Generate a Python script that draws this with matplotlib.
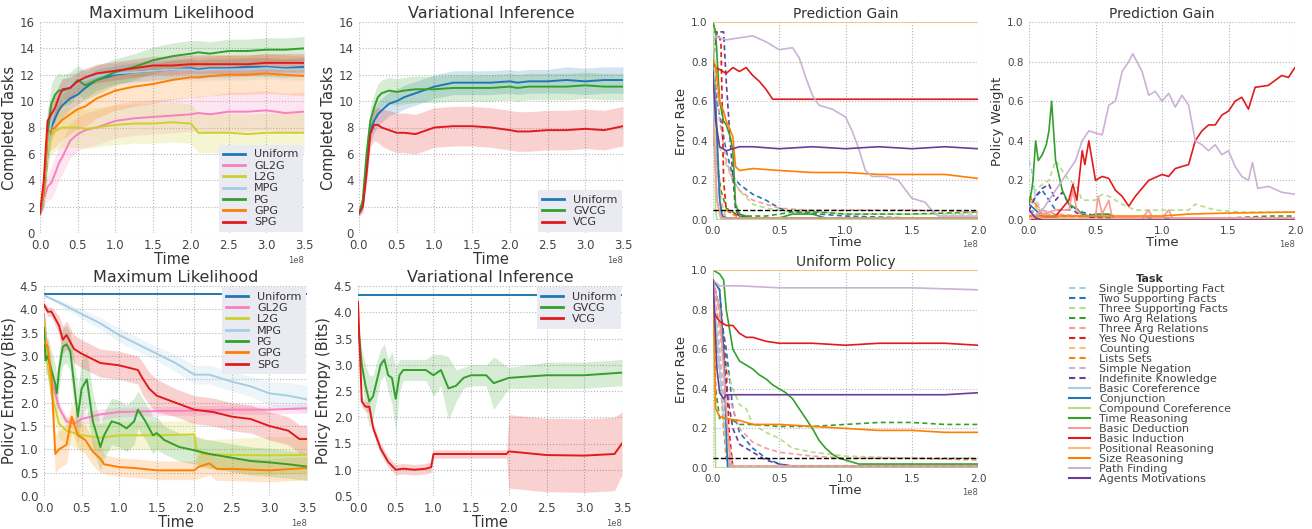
import numpy as np
import matplotlib
matplotlib.use("Agg")
import matplotlib.pyplot as plt
from matplotlib.lines import Line2D

# ---- left group: completed tasks (time in 1e8 steps) ----
t_top = [0, .05, .1, .15, .2, .25, .3, .4, .5, .6, .75, 1.0, 1.25, 1.5, 1.75, 2.0, 2.1, 2.25, 2.5, 2.75, 3.0, 3.25, 3.5]

ml_names = ["Uniform", "GL2G", "L2G", "MPG", "PG", "GPG", "SPG"]
ml_colors = ["#1f78b4", "#f781bf", "#cdd12b", "#a6cee3", "#33a02c", "#ff7f00", "#e31a1c"]

ml_tasks = [
    [1.5, 2.5, 6.0, 8.0, 8.7, 9.3, 9.7, 10.2, 10.5, 11.0, 11.6, 12.0, 12.2, 12.3, 12.4, 12.5, 12.4, 12.5, 12.5, 12.6, 12.6, 12.5, 12.6],
    [1.5, 2.5, 3.5, 3.8, 4.5, 5.3, 5.8, 7.0, 7.5, 7.8, 8.0, 8.5, 8.7, 8.8, 8.9, 9.0, 9.1, 9.0, 9.2, 9.2, 9.3, 9.1, 9.2],
    [1.5, 2.5, 6.0, 7.4, 7.7, 7.9, 8.0, 8.0, 8.0, 7.9, 8.0, 8.2, 8.3, 8.3, 8.4, 8.3, 7.6, 7.6, 7.6, 7.5, 7.6, 7.6, 7.6],
    [1.5, 2.5, 6.5, 8.5, 9.5, 10.3, 10.8, 11.3, 11.5, 11.6, 11.9, 12.1, 12.2, 12.3, 12.4, 12.4, 12.3, 12.4, 12.4, 12.4, 12.5, 12.4, 12.4],
    [1.5, 3.0, 7.5, 9.8, 10.5, 10.8, 10.8, 11.0, 11.6, 11.2, 11.6, 12.2, 12.6, 13.1, 13.4, 13.6, 13.7, 13.6, 13.8, 13.8, 13.9, 13.9, 14.0],
    [1.5, 3.0, 7.5, 7.8, 8.0, 8.3, 8.6, 9.0, 9.4, 9.6, 10.2, 10.8, 11.1, 11.3, 11.6, 11.8, 11.8, 11.9, 12.0, 12.0, 12.1, 12.0, 11.9],
    [1.5, 4.0, 8.5, 9.0, 9.5, 10.3, 10.9, 11.0, 11.5, 11.8, 12.1, 12.3, 12.5, 12.7, 12.7, 12.8, 12.8, 12.8, 12.8, 12.8, 12.9, 12.9, 12.9],
]
ml_tasks_sd = [
    [0.2, 0.5, 1.0, 1.0, 1.0, 0.9, 0.9, 0.8, 0.8, 0.8, 0.8, 0.7, 0.7, 0.7, 0.7, 0.7, 0.7, 0.7, 0.7, 0.7, 0.7, 0.7, 0.7],
    [0.2, 0.6, 1.0, 1.2, 1.3, 1.3, 1.3, 1.3, 1.3, 1.3, 1.3, 1.3, 1.3, 1.3, 1.3, 1.3, 1.3, 1.4, 1.5, 1.5, 1.5, 1.5, 1.5],
    [0.2, 0.6, 1.2, 1.4, 1.5, 1.5, 1.5, 1.5, 1.5, 1.5, 1.5, 1.5, 1.5, 1.5, 1.5, 1.5, 1.5, 1.5, 1.5, 1.5, 1.5, 1.5, 1.5],
    [0.2, 0.6, 1.0, 1.0, 0.9, 0.9, 0.9, 0.8, 0.8, 0.8, 0.8, 0.8, 0.8, 0.8, 0.8, 0.8, 0.8, 0.8, 0.8, 0.8, 0.8, 0.8, 0.8],
    [0.2, 0.8, 1.5, 1.5, 1.4, 1.3, 1.2, 1.2, 1.1, 1.1, 1.1, 1.0, 1.0, 1.0, 1.0, 1.0, 0.9, 0.9, 0.9, 0.9, 0.9, 0.9, 0.9],
    [0.2, 0.8, 1.5, 1.5, 1.5, 1.5, 1.5, 1.5, 1.5, 1.5, 1.5, 1.5, 1.5, 1.5, 1.5, 1.5, 1.5, 1.5, 1.5, 1.5, 1.5, 1.5, 1.5],
    [0.2, 0.8, 1.0, 1.0, 1.0, 0.9, 0.8, 0.8, 0.7, 0.7, 0.7, 0.7, 0.7, 0.7, 0.7, 0.7, 0.7, 0.7, 0.7, 0.7, 0.7, 0.7, 0.7],
]

vi_names = ["Uniform", "GVCG", "VCG"]
vi_colors = ["#1f78b4", "#33a02c", "#e31a1c"]
vi_tasks = [
    [1.5, 2.0, 5.0, 7.8, 8.5, 9.0, 9.3, 9.8, 10.0, 10.3, 10.6, 11.1, 11.4, 11.4, 11.4, 11.5, 11.4, 11.5, 11.5, 11.6, 11.5, 11.6, 11.6],
    [1.5, 2.5, 6.0, 8.5, 9.5, 10.3, 10.6, 10.8, 10.7, 10.8, 10.9, 10.9, 11.0, 11.0, 11.0, 11.1, 11.0, 11.1, 11.1, 11.1, 11.2, 11.1, 11.1],
    [1.5, 2.0, 4.5, 7.5, 8.2, 8.2, 8.0, 7.8, 7.6, 7.6, 7.5, 8.0, 8.1, 8.1, 8.0, 7.8, 7.7, 7.7, 7.8, 7.8, 7.9, 7.8, 8.1],
]
vi_tasks_sd = [
    [0.2, 0.4, 0.8, 0.9, 0.9, 0.9, 0.9, 0.9, 0.9, 0.9, 0.9, 0.9, 0.9, 0.9, 0.9, 0.9, 0.9, 0.9, 0.9, 1.0, 1.0, 1.0, 1.0],
    [0.2, 0.4, 0.9, 1.0, 1.0, 1.0, 1.0, 1.0, 1.0, 1.0, 1.0, 1.0, 1.0, 1.0, 1.0, 1.0, 1.0, 1.0, 1.0, 1.0, 1.0, 1.0, 1.0],
    [0.2, 0.4, 0.8, 1.0, 1.2, 1.3, 1.4, 1.5, 1.5, 1.5, 1.5, 1.5, 1.5, 1.5, 1.5, 1.5, 1.5, 1.5, 1.5, 1.5, 1.5, 1.5, 1.5],
]

# ---- left group: policy entropy ----
ml_ent_x = [
    [0, 3.5],
    [0, .05, .1, .2, .3, .4, .5, .75, 1.0, 1.5, 2.0, 2.5, 3.0, 3.5],
    [0, .05, .1, .2, .3, .4, .5, .75, 1.0, 1.5, 2.0, 2.03, 2.1, 2.5, 3.0, 3.5],
    [0, .2, .5, .75, 1.0, 1.25, 1.5, 1.75, 2.0, 2.2, 2.5, 2.75, 3.0, 3.25, 3.5],
    [0, .02, .05, .1, .15, .17, .2, .25, .3, .35, .4, .45, .5, .57, .65, .75, .8, .9, 1.0, 1.1, 1.2, 1.25, 1.35, 1.45, 1.5, 1.6, 1.8, 2.0, 2.2, 2.5, 2.75, 3.0, 3.25, 3.5],
    [0, .05, .1, .15, .2, .3, .37, .45, .55, .65, .75, .8, 1.0, 1.2, 1.5, 2.0, 2.05, 2.2, 2.3, 2.5, 3.0, 3.5],
    [0, .05, .1, .2, .25, .3, .35, .4, .5, .75, 1.0, 1.25, 1.3, 1.4, 1.5, 1.75, 2.0, 2.25, 2.5, 2.75, 3.0, 3.25, 3.4, 3.5],
]
ml_ent = [
    [4.32, 4.32],
    [3.9, 3.0, 2.5, 1.9, 1.6, 1.55, 1.65, 1.75, 1.8, 1.82, 1.83, 1.85, 1.85, 1.88],
    [3.8, 2.8, 2.2, 1.55, 1.4, 1.35, 1.3, 1.25, 1.3, 1.3, 1.32, 1.0, 0.9, 0.88, 0.87, 0.88],
    [4.3, 4.15, 3.9, 3.7, 3.45, 3.25, 3.05, 2.85, 2.6, 2.6, 2.45, 2.35, 2.2, 2.15, 2.07],
    [3.6, 2.9, 3.0, 2.7, 2.4, 2.2, 2.7, 3.2, 3.25, 3.1, 2.4, 1.7, 2.3, 2.5, 1.6, 1.05, 1.3, 1.6, 1.55, 1.45, 1.6, 1.85, 1.6, 1.3, 1.35, 1.2, 1.05, 0.98, 0.9, 0.82, 0.75, 0.72, 0.68, 0.63],
    [3.3, 3.2, 2.5, 0.9, 1.0, 1.1, 1.7, 1.3, 1.2, 0.95, 0.8, 0.68, 0.62, 0.6, 0.55, 0.55, 0.62, 0.7, 0.58, 0.58, 0.55, 0.6],
    [4.1, 3.95, 3.95, 3.65, 3.35, 3.45, 3.3, 3.15, 3.05, 2.85, 2.8, 2.7, 2.55, 2.3, 2.15, 2.0, 1.85, 1.8, 1.7, 1.65, 1.5, 1.4, 1.22, 1.22],
]
ml_ent_sd = [
    [0.0, 0.0],
    [0.05, 0.1, 0.1, 0.12, 0.12, 0.12, 0.12, 0.12, 0.1, 0.1, 0.1, 0.1, 0.1, 0.1],
    [0.1, 0.2, 0.3, 0.3, 0.3, 0.3, 0.3, 0.3, 0.3, 0.3, 0.3, 0.3, 0.3, 0.35, 0.4, 0.4],
    [0.02, 0.05, 0.1, 0.12, 0.15, 0.15, 0.15, 0.18, 0.2, 0.2, 0.2, 0.22, 0.25, 0.28, 0.3],
    [0.1, 0.3, 0.4, 0.4, 0.4, 0.4, 0.4, 0.4, 0.4, 0.4, 0.5, 0.6, 0.6, 0.6, 0.6, 0.5, 0.5, 0.5, 0.5, 0.5, 0.5, 0.4, 0.4, 0.4, 0.35, 0.3, 0.3, 0.3, 0.3, 0.3, 0.3, 0.3, 0.3, 0.3],
    [0.1, 0.2, 0.4, 0.4, 0.4, 0.4, 0.3, 0.3, 0.3, 0.3, 0.3, 0.2, 0.2, 0.2, 0.2, 0.2, 0.25, 0.25, 0.25, 0.25, 0.25, 0.25],
    [0.05, 0.1, 0.1, 0.2, 0.3, 0.3, 0.3, 0.3, 0.3, 0.3, 0.3, 0.3, 0.35, 0.35, 0.35, 0.3, 0.3, 0.3, 0.3, 0.3, 0.3, 0.3, 0.3, 0.3],
]

vi_ent_x = [
    [0, 3.5],
    [0, .05, .1, .15, .2, .3, .35, .4, .45, .5, .55, .6, .75, .9, 1.0, 1.1, 1.2, 1.3, 1.4, 1.5, 1.7, 1.8, 2.0, 2.5, 3.0, 3.5],
    [0, .05, .1, .15, .2, .3, .4, .5, .6, .75, .9, .97, 1.0, 1.5, 1.97, 2.0, 2.5, 3.0, 3.4, 3.5],
]
vi_ent = [
    [4.32, 4.32],
    [3.75, 3.0, 2.6, 2.3, 2.4, 3.0, 3.1, 2.8, 2.75, 2.35, 2.8, 2.9, 2.9, 2.9, 2.8, 2.9, 2.55, 2.6, 2.75, 2.8, 2.8, 2.65, 2.75, 2.8, 2.8, 2.85],
    [4.2, 2.3, 2.2, 2.2, 1.8, 1.4, 1.15, 1.0, 1.02, 1.0, 1.02, 1.05, 1.3, 1.3, 1.3, 1.35, 1.28, 1.27, 1.3, 1.5],
]
vi_ent_sd = [
    [0.0, 0.0],
    [0.1, 0.3, 0.4, 0.5, 0.4, 0.3, 0.3, 0.3, 0.5, 0.6, 0.3, 0.2, 0.2, 0.2, 0.4, 0.3, 0.6, 0.3, 0.2, 0.2, 0.2, 0.5, 0.2, 0.25, 0.25, 0.25],
    [0.05, 0.1, 0.1, 0.1, 0.1, 0.1, 0.1, 0.1, 0.1, 0.1, 0.1, 0.1, 0.08, 0.08, 0.08, 0.7, 0.7, 0.7, 0.7, 0.6],
]

# ---- right group: bAbI tasks ----
task_names = ["Single Supporting Fact", "Two Supporting Facts", "Three Supporting Facts",
              "Two Arg Relations", "Three Arg Relations", "Yes No Questions", "Counting",
              "Lists Sets", "Simple Negation", "Indefinite Knowledge", "Basic Coreference",
              "Conjunction", "Compound Coreference", "Time Reasoning", "Basic Deduction",
              "Basic Induction", "Positional Reasoning", "Size Reasoning", "Path Finding",
              "Agents Motivations"]
paired = ["#a6cee3", "#1f78b4", "#b2df8a", "#33a02c", "#fb9a99",
          "#e31a1c", "#fdbf6f", "#ff7f00", "#cab2d6", "#6a3d9a"]

pg_err_x = [
    [0, .03, .06, .1, 2.0],
    [0, .03, .1, .15, .2, .3, .4, .5, .6, .8, 1.0, 1.5, 2.0],
    [0, .03, .06, .1, .15, .2, .3, .4, .6, .8, 1.0, 1.5, 2.0],
    [0, .03, .06, .1, .2, .4, .6, .8, 1.0, 1.5, 2.0],
    [0, .05, .1, .15, .2, .3, .5, .7, 1.0, 1.5, 2.0],
    [0, .03, .06, .08, .1, .15, .3, 2.0],
    [0, .03, .06, .1, 2.0],
    [0, .03, .06, .1, .2, 2.0],
    [0, .03, .06, .1, 2.0],
    [0, .03, .08, .1, .13, .17, .2, .3, 2.0],
    [0, .03, .06, 2.0],
    [0, .02, .05, .07, .1, 2.0],
    [0, .01, .02, .03, 2.0],
    [0, .02, .05, .08, .1, .13, .15, .17, .2, .3, .5, .6, .75, .8, .85, 2.0],
    [0, .03, .06, 2.0],
    [0, .02, .05, .1, .15, .2, .25, .3, .35, .4, .45, .5, .75, 1.0, 1.25, 1.5, 1.75, 2.0],
    [0, 2.0],
    [0, .02, .05, .08, .1, .12, .15, .17, .2, .3, .5, .75, 1.0, 1.25, 1.5, 1.75, 2.0],
    [0, .02, .05, .1, .2, .3, .4, .5, .6, .65, .7, .75, .8, .9, 1.0, 1.05, 1.1, 1.15, 1.2, 1.3, 1.4, 1.5, 1.6, 1.65, 1.7, 1.8, 2.0],
    [0, .02, .05, .1, .2, .3, .5, .75, 1.0, 1.25, 1.5, 1.75, 2.0],
]
pg_err = [
    [0.6, 0.3, 0.03, 0.0, 0.0],
    [0.85, 0.6, 0.35, 0.22, 0.18, 0.13, 0.1, 0.06, 0.04, 0.03, 0.02, 0.01, 0.01],
    [0.45, 0.4, 0.35, 0.28, 0.2, 0.15, 0.08, 0.06, 0.04, 0.04, 0.03, 0.03, 0.03],
    [0.4, 0.3, 0.15, 0.06, 0.02, 0.02, 0.04, 0.04, 0.03, 0.03, 0.04],
    [0.9, 0.5, 0.3, 0.2, 0.15, 0.1, 0.06, 0.05, 0.05, 0.05, 0.04],
    [0.95, 0.95, 0.9, 0.2, 0.05, 0.03, 0.01, 0.01],
    [0.8, 0.4, 0.1, 0.01, 0.01],
    [0.75, 0.3, 0.06, 0.05, 0.01, 0.01],
    [0.7, 0.3, 0.05, 0.01, 0.01],
    [0.8, 0.95, 0.95, 0.7, 0.4, 0.05, 0.02, 0.01, 0.01],
    [0.6, 0.1, 0.0, 0.0],
    [0.85, 0.6, 0.1, 0.02, 0.01, 0.01],
    [1.0, 0.8, 0.05, 0.0, 0.0],
    [1.0, 0.95, 0.6, 0.5, 0.48, 0.42, 0.35, 0.08, 0.03, 0.01, 0.01, 0.03, 0.03, 0.02, 0.01, 0.01],
    [0.5, 0.1, 0.01, 0.01],
    [0.8, 0.77, 0.76, 0.74, 0.77, 0.75, 0.77, 0.73, 0.7, 0.66, 0.61, 0.61, 0.61, 0.61, 0.61, 0.61, 0.61, 0.61],
    [1.0, 1.0],
    [0.8, 0.78, 0.6, 0.55, 0.5, 0.47, 0.42, 0.27, 0.25, 0.26, 0.25, 0.24, 0.24, 0.23, 0.23, 0.23, 0.21],
    [0.9, 0.93, 0.92, 0.91, 0.92, 0.93, 0.9, 0.86, 0.87, 0.82, 0.72, 0.63, 0.58, 0.56, 0.52, 0.45, 0.36, 0.25, 0.22, 0.22, 0.2, 0.11, 0.09, 0.05, 0.02, 0.02, 0.02],
    [0.75, 0.5, 0.37, 0.35, 0.37, 0.37, 0.36, 0.37, 0.36, 0.37, 0.36, 0.37, 0.36],
]

uni_err_x = [
    [0, .05, .1, .15, 2.0],
    [0, .05, .1, .15, .2, .3, .4, .5, .6, 2.0],
    [0, .1, .15, .2, .25, .3, .4, .5, .6, .75, 1.0, 1.5, 2.0],
    [0, .02, .05, .1, .15, .2, .3, .5, .75, 1.0, 1.25, 1.5, 1.75, 2.0],
    [0, .05, .1, .2, .3, .4, .5, .75, 1.0, 1.5, 2.0],
    [0, .05, .1, .12, .15, 2.0],
    [0, .05, .1, .15, 2.0],
    [0, .05, .08, .1, .13, 2.0],
    [0, .05, .1, .15, 2.0],
    [0, .05, .1, .15, .2, .3, .4, .5, .6, 2.0],
    [0, .05, .1, .12, 2.0],
    [0, .05, .08, .1, .11, 2.0],
    [0, .01, .02, 2.0],
    [0, .05, .08, .1, .15, .2, .25, .3, .35, .4, .45, .5, .55, .6, .65, .7, .75, .8, .85, .9, .95, 1.0, 1.1, 1.5, 2.0],
    [0, .05, .1, .13, 2.0],
    [0, .02, .05, .1, .15, .2, .25, .3, .4, .5, .75, 1.0, 1.25, 1.5, 1.75, 2.0],
    [0, 2.0],
    [0, .02, .05, .1, .2, .3, .5, .75, 1.0, 1.25, 1.5, 1.75, 2.0],
    [0, .05, .2, .5, 1.0, 1.5, 2.0],
    [0, .03, .05, .08, .1, .3, .5, .75, 1.0, 1.25, 1.5, 1.75, 2.0],
]
uni_err = [
    [0.9, 0.5, 0.1, 0.0, 0.0],
    [0.95, 0.8, 0.6, 0.3, 0.18, 0.1, 0.05, 0.02, 0.01, 0.01],
    [0.9, 0.5, 0.4, 0.32, 0.3, 0.22, 0.18, 0.15, 0.1, 0.08, 0.06, 0.05, 0.05],
    [0.9, 0.4, 0.25, 0.25, 0.24, 0.22, 0.22, 0.21, 0.21, 0.22, 0.23, 0.23, 0.22, 0.22],
    [0.95, 0.7, 0.4, 0.2, 0.13, 0.1, 0.08, 0.06, 0.05, 0.05, 0.04],
    [0.95, 0.9, 0.5, 0.2, 0.0, 0.0],
    [0.9, 0.6, 0.2, 0.01, 0.01],
    [0.9, 0.5, 0.2, 0.05, 0.0, 0.0],
    [0.9, 0.6, 0.2, 0.01, 0.01],
    [0.95, 0.8, 0.4, 0.2, 0.12, 0.08, 0.04, 0.02, 0.01, 0.01],
    [0.95, 0.5, 0.1, 0.0, 0.0],
    [0.95, 0.9, 0.6, 0.2, 0.0, 0.0],
    [1.0, 0.5, 0.0, 0.0],
    [1.0, 0.98, 0.95, 0.8, 0.6, 0.54, 0.52, 0.5, 0.47, 0.45, 0.42, 0.4, 0.38, 0.35, 0.3, 0.25, 0.2, 0.14, 0.1, 0.07, 0.05, 0.04, 0.02, 0.02, 0.02],
    [0.95, 0.8, 0.3, 0.01, 0.01],
    [0.8, 0.77, 0.74, 0.72, 0.72, 0.68, 0.66, 0.66, 0.64, 0.63, 0.63, 0.62, 0.63, 0.63, 0.63, 0.62],
    [1.0, 1.0],
    [0.95, 0.3, 0.26, 0.25, 0.24, 0.22, 0.22, 0.21, 0.2, 0.19, 0.19, 0.18, 0.18],
    [0.95, 0.92, 0.92, 0.91, 0.91, 0.91, 0.9],
    [0.95, 0.5, 0.38, 0.35, 0.37, 0.37, 0.37, 0.37, 0.37, 0.37, 0.37, 0.37, 0.38],
]

pg_w_x = [
    [0, .02, .05, .1, .2, 2.0],
    [0, .05, .1, .15, .2, .3, .35, .4, .5, .6, .7, 2.0],
    [0, .05, .1, .15, .2, .25, .3, .35, .4, .5, .55, .6, .7, .8, 1.0, 1.2, 1.25, 1.3, 1.4, 1.6, 1.8, 2.0],
    [0, .1, .3, .5, .7, 1.0, 1.5, 1.8, 2.0],
    [0, .1, .2, .4, .6, 2.0],
    [0, .1, .2, 2.0],
    [0, .1, .3, 2.0],
    [0, .05, .1, .2, 2.0],
    [0, .1, .3, 2.0],
    [0, .05, .1, .15, .2, .25, .3, .35, .4, .5, 2.0],
    [0, .1, .3, 2.0],
    [0, .05, .1, .2, .3, 2.0],
    [0, .1, 2.0],
    [0, .02, .03, .05, .07, .1, .13, .15, .17, .2, .25, .3, .35, .4, .45, .5, .55, .6, .65, .7, 2.0],
    [0, .1, .2, .3, .33, .36, .4, .5, .52, .55, .6, .62, .65, .85, .9, .93, 1.0, 1.05, 1.08, 1.2, 2.0],
    [0, .2, .3, .33, .36, .4, .42, .45, .5, .55, .6, .65, .7, .75, .8, .9, 1.0, 1.05, 1.1, 1.2, 1.25, 1.3, 1.35, 1.4, 1.45, 1.5, 1.55, 1.6, 1.65, 1.7, 1.8, 1.9, 1.95, 2.0],
    [0, .5, 2.0],
    [0, .2, .5, 1.0, 1.2, 1.5, 2.0],
    [0, .1, .2, .3, .35, .4, .45, .55, .6, .65, .7, .75, .78, .85, .9, .95, 1.0, 1.05, 1.1, 1.15, 1.2, 1.25, 1.3, 1.35, 1.4, 1.45, 1.5, 1.55, 1.6, 1.65, 1.68, 1.72, 1.8, 1.9, 2.0],
    [0, .05, .1, 2.0],
]
pg_w = [
    [0.3, 0.25, 0.1, 0.05, 0.0, 0.0],
    [0.05, 0.12, 0.15, 0.1, 0.05, 0.05, 0.06, 0.04, 0.02, 0.01, 0.0, 0.0],
    [0.1, 0.15, 0.18, 0.2, 0.3, 0.25, 0.2, 0.18, 0.1, 0.1, 0.13, 0.12, 0.08, 0.05, 0.05, 0.05, 0.08, 0.07, 0.05, 0.04, 0.04, 0.04],
    [0.05, 0.03, 0.02, 0.01, 0.01, 0.01, 0.01, 0.02, 0.02],
    [0.1, 0.05, 0.03, 0.02, 0.01, 0.01],
    [0.05, 0.02, 0.0, 0.0],
    [0.1, 0.03, 0.01, 0.01],
    [0.12, 0.08, 0.03, 0.01, 0.0],
    [0.05, 0.03, 0.01, 0.0],
    [0.05, 0.12, 0.16, 0.18, 0.1, 0.14, 0.08, 0.04, 0.02, 0.01, 0.0],
    [0.02, 0.01, 0.0, 0.0],
    [0.08, 0.05, 0.02, 0.01, 0.0, 0.0],
    [0.01, 0.0, 0.0],
    [0.08, 0.15, 0.2, 0.4, 0.3, 0.33, 0.38, 0.45, 0.6, 0.3, 0.15, 0.08, 0.06, 0.03, 0.02, 0.03, 0.03, 0.03, 0.01, 0.0, 0.0],
    [0.02, 0.03, 0.05, 0.05, 0.15, 0.05, 0.02, 0.02, 0.12, 0.03, 0.1, 0.03, 0.01, 0.01, 0.05, 0.01, 0.01, 0.05, 0.01, 0.01, 0.01],
    [0.0, 0.02, 0.1, 0.18, 0.1, 0.35, 0.28, 0.4, 0.2, 0.22, 0.21, 0.15, 0.12, 0.07, 0.12, 0.2, 0.23, 0.22, 0.26, 0.28, 0.4, 0.45, 0.48, 0.48, 0.53, 0.55, 0.6, 0.62, 0.56, 0.67, 0.68, 0.73, 0.72, 0.77],
    [0.01, 0.005, 0.0],
    [0.02, 0.02, 0.02, 0.02, 0.03, 0.035, 0.04],
    [0.0, 0.05, 0.15, 0.25, 0.3, 0.4, 0.45, 0.43, 0.58, 0.6, 0.75, 0.8, 0.84, 0.75, 0.63, 0.65, 0.6, 0.64, 0.57, 0.63, 0.58, 0.4, 0.38, 0.35, 0.38, 0.33, 0.35, 0.27, 0.22, 0.2, 0.29, 0.16, 0.17, 0.14, 0.13],
    [0.05, 0.01, 0.0, 0.0],
]

# ---- styling ----
plt.rcParams["font.family"] = "DejaVu Sans"
plt.rcParams["text.color"] = "#333333"
plt.rcParams["axes.labelcolor"] = "#333333"

W, H = 1312, 529
fig = plt.figure(figsize=(W / 100, H / 100), dpi=100)


def box(l, t, r, b):
    return [l / W, 1 - b / H, (r - l) / W, (b - t) / H]


def style(ax, big=True):
    for s in ax.spines.values():
        s.set_visible(False)
    ax.grid(True, ls=":", color="#b5b5b5", lw=0.8)
    ax.set_axisbelow(True)
    ax.tick_params(axis="y", length=0, labelsize=8.5 if big else 7.5, colors="#444444", pad=4)
    ax.tick_params(axis="x", length=0, labelsize=8.5 if big else 7.5, colors="#444444", pad=4)
    ax.xaxis.get_offset_text().set_fontsize(6)
    ax.xaxis.get_offset_text().set_color("#555555")


def draw_group(ax, xs, ys, sds, names, colors):
    for x, y, sd, n, c in zip(xs, ys, sds, names, colors):
        x = np.array(x) * 1e8
        y = np.array(y)
        sd = np.array(sd)
        ax.fill_between(x, y - sd, y + sd, color=c, alpha=0.2, lw=0)
        ax.plot(x, y, color=c, lw=1.4, label=n)


def leg(ax, loc):
    lg = ax.legend(loc=loc, fontsize=8, frameon=True, facecolor="#eaeaf2", edgecolor="none",
                   framealpha=1, labelspacing=0.12, handlelength=2.0, borderpad=0.4,
                   fancybox=False, borderaxespad=0.1)
    for h in lg.get_lines():
        h.set_linewidth(2)


def left_axes(rect, title, ylabel):
    ax = fig.add_axes(rect)
    ax.set_title(title, fontsize=11.5, pad=3)
    ax.set_ylabel(ylabel, fontsize=10.5, labelpad=2)
    ax.set_xlabel("Time", fontsize=10.5, labelpad=0)
    return ax


# top left
ax = left_axes(box(40, 22, 304, 233), "Maximum Likelihood", "Completed Tasks")
draw_group(ax, [t_top] * 7, ml_tasks, ml_tasks_sd, ml_names, ml_colors)
ax.set_xlim(0, 3.5e8); ax.set_ylim(0, 16)
ax.set_yticks(range(0, 17, 2))
style(ax)
leg(ax, "lower right")

# top middle
ax = left_axes(box(359, 22, 623, 233), "Variational Inference", "Completed Tasks")
draw_group(ax, [t_top] * 3, vi_tasks, vi_tasks_sd, vi_names, vi_colors)
ax.set_xlim(0, 3.5e8); ax.set_ylim(0, 16)
ax.set_yticks(range(0, 17, 2))
style(ax)
leg(ax, "lower right")

# bottom left
ax = left_axes(box(44, 286, 307, 496), "Maximum Likelihood", "Policy Entropy (Bits)")
draw_group(ax, ml_ent_x, ml_ent, ml_ent_sd, ml_names, ml_colors)
ax.set_xlim(0, 3.5e8); ax.set_ylim(0, 4.5)
ax.set_yticks(np.arange(0, 4.51, 0.5))
style(ax)
leg(ax, "upper right")

# bottom middle
ax = left_axes(box(358, 286, 622, 496), "Variational Inference", "Policy Entropy (Bits)")
draw_group(ax, vi_ent_x, vi_ent, vi_ent_sd, vi_names, vi_colors)
ax.set_xlim(0, 3.5e8); ax.set_ylim(0.5, 4.5)
ax.set_yticks(np.arange(0.5, 4.51, 0.5))
style(ax)
leg(ax, "upper right")


def draw_tasks(ax, xs, ys, thresh=True):
    for i, (x, y) in enumerate(zip(xs, ys)):
        ax.plot(np.array(x) * 1e8, y, color=paired[i % 10], lw=1.2,
                ls=(0, (3, 2)) if i < 10 else "-")
    if thresh:
        ax.axhline(0.05, color="k", ls="--", lw=1)
    ax.set_xlim(0, 2e8); ax.set_ylim(0, 1)
    ax.set_xticks(np.arange(0, 2.01e8, 0.5e8))
    ax.set_yticks(np.arange(0, 1.01, 0.2))
    ax.set_xlabel("Time", fontsize=9.5, labelpad=0)
    style(ax, big=False)


ax = fig.add_axes(box(713, 22, 978, 220))
draw_tasks(ax, pg_err_x, pg_err)
ax.set_title("Prediction Gain", fontsize=10, pad=3)
ax.set_ylabel("Error Rate", fontsize=9.5, labelpad=2)

ax = fig.add_axes(box(1029, 22, 1295, 220))
draw_tasks(ax, pg_w_x, pg_w, thresh=False)
ax.set_title("Prediction Gain", fontsize=10, pad=3)
ax.set_ylabel("Policy Weight", fontsize=9.5, labelpad=2)

ax = fig.add_axes(box(713, 270, 978, 468))
draw_tasks(ax, uni_err_x, uni_err)
ax.set_title("Uniform Policy", fontsize=10, pad=3)
ax.set_ylabel("Error Rate", fontsize=9.5, labelpad=2)

handles = [Line2D([], [], color=paired[i % 10], lw=1.5, ls=(0, (3, 2)) if i < 10 else "-")
           for i in range(20)]
lg = fig.legend(handles, task_names, loc="upper center", bbox_to_anchor=(1150 / W, 1 - 266 / H),
                frameon=False, fontsize=8, labelspacing=0.0, handlelength=1.9,
                labelcolor="#444444", borderpad=0.2,
                title="Task", title_fontproperties={"weight": "bold", "size": 8})

fig.savefig("out.png", dpi=100)
